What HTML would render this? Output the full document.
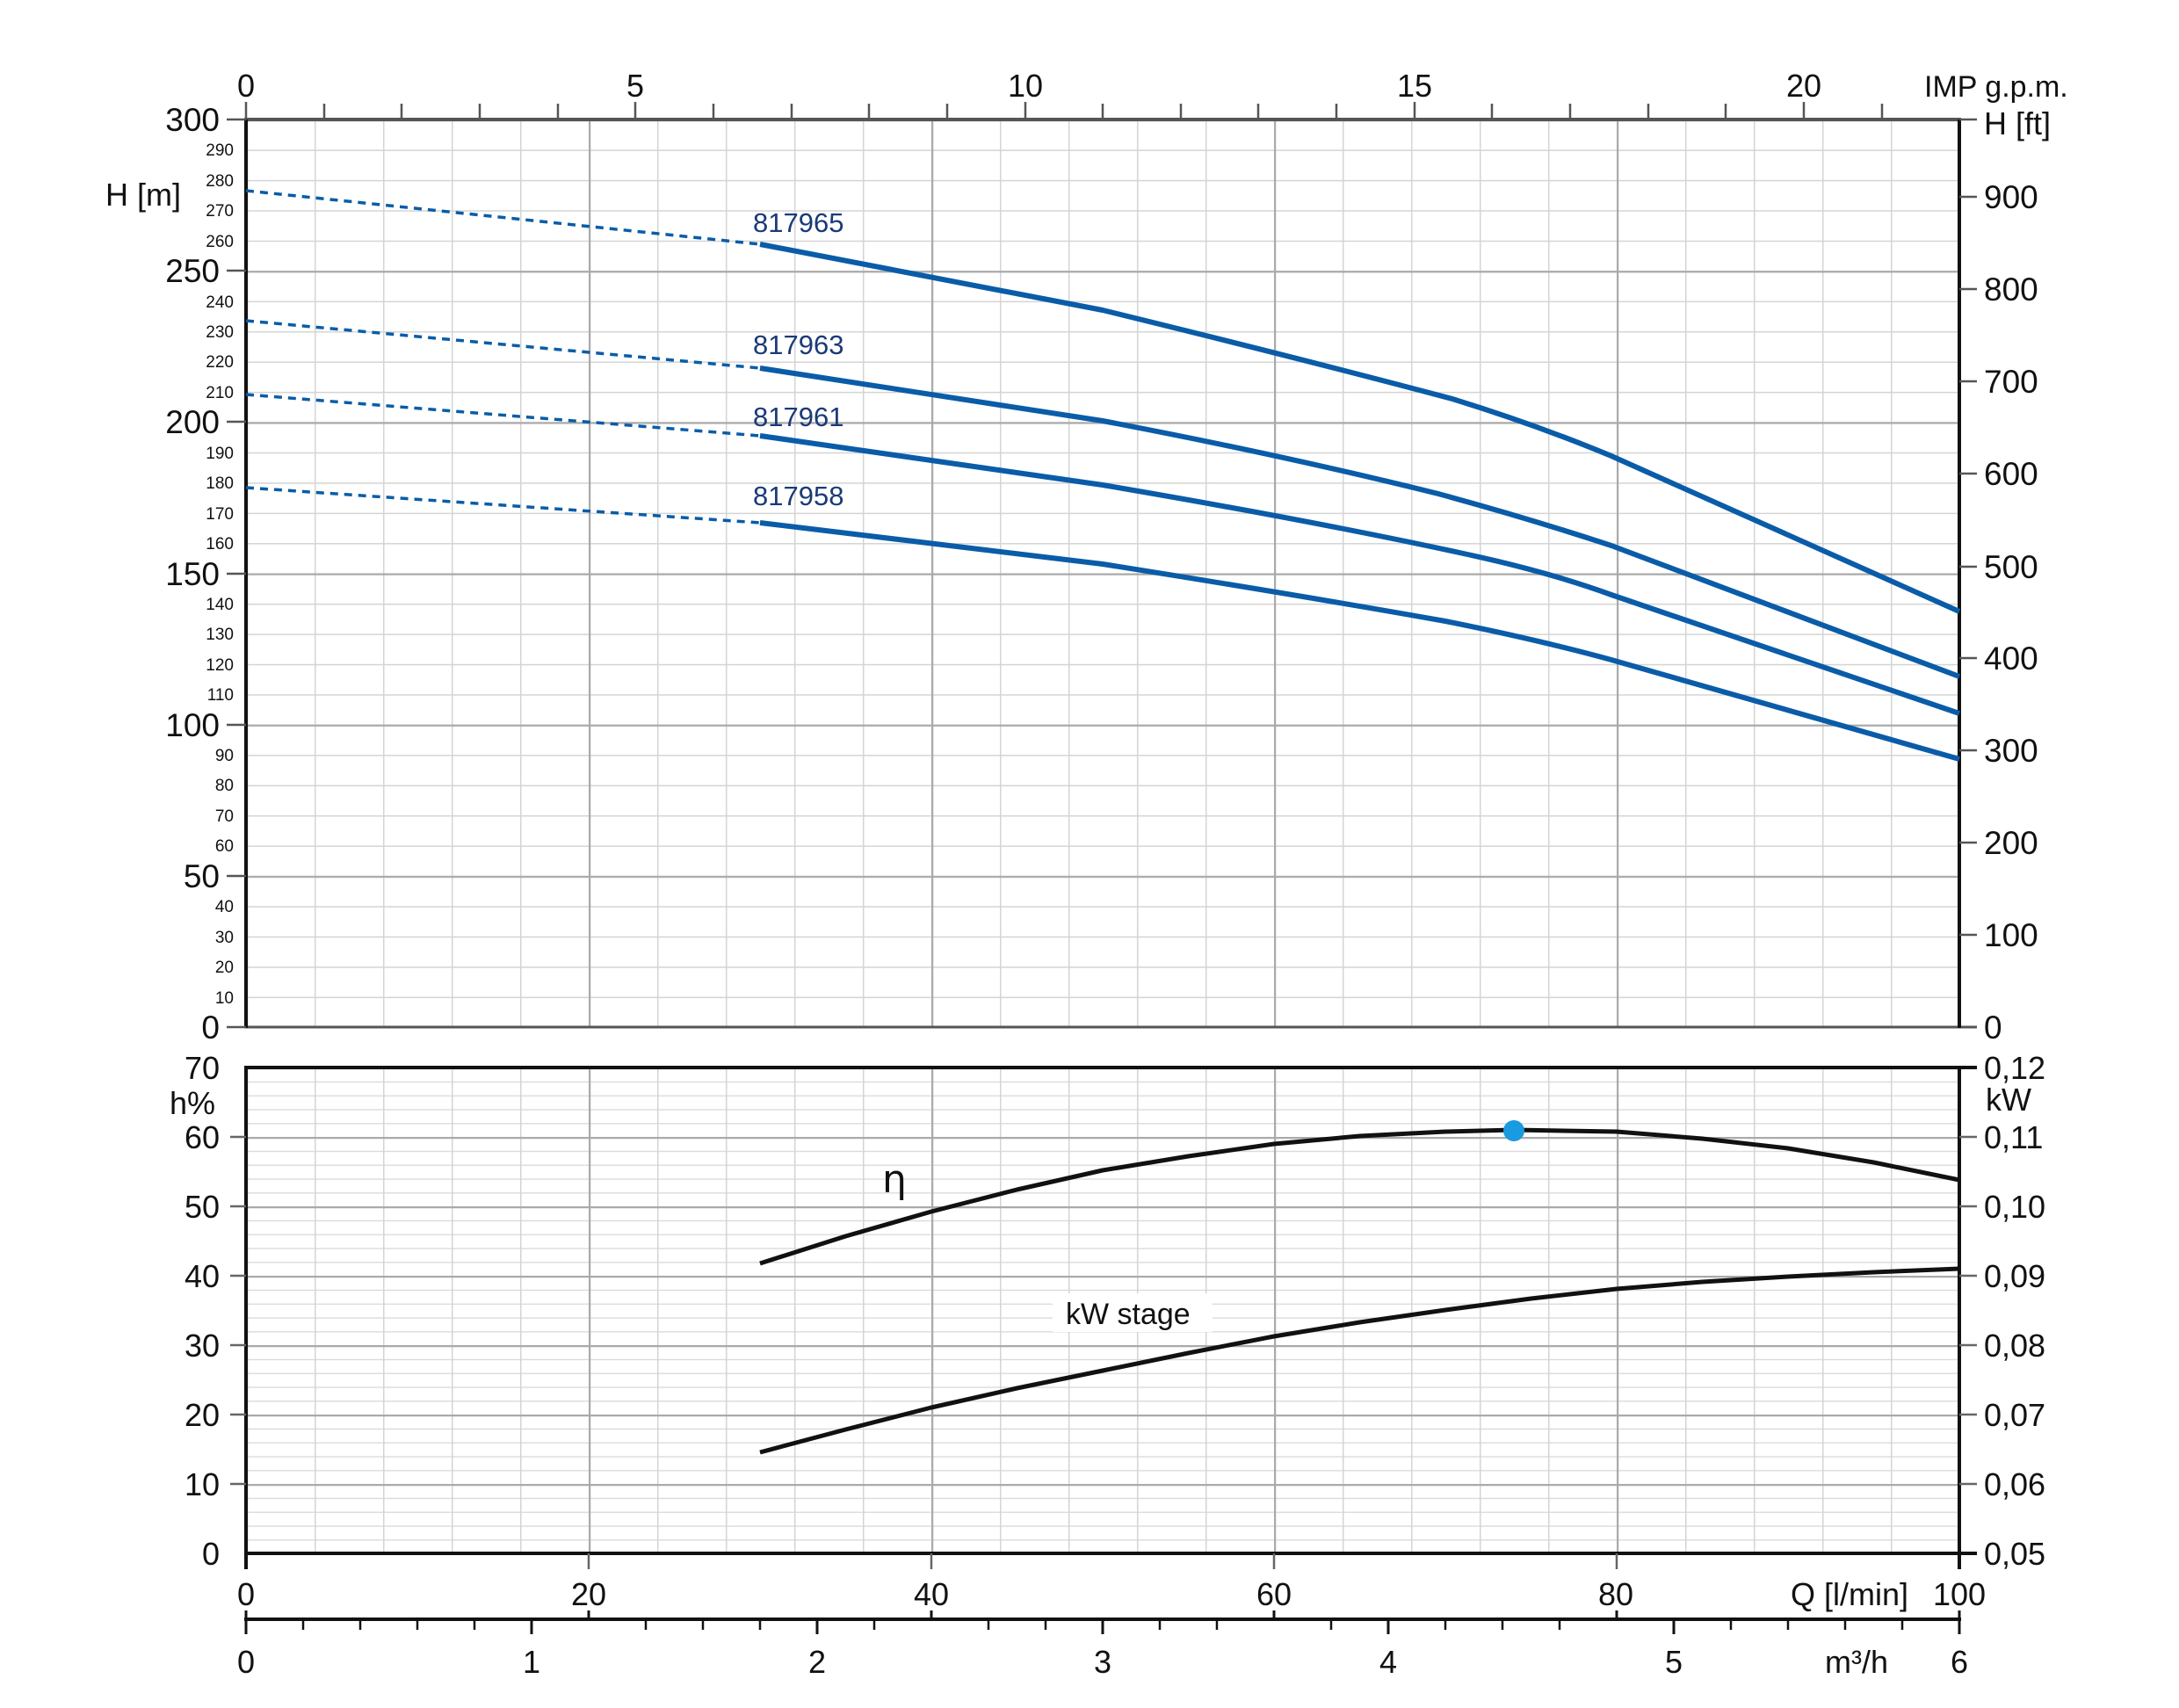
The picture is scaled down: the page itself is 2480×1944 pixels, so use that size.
<!DOCTYPE html>
<html><head><meta charset="utf-8"><style>
html,body{margin:0;padding:0;background:#fff;}
svg{display:block;}
text{font-family:"Liberation Sans Narrow","Liberation Sans",sans-serif;fill:#111;}
</style></head><body>
<svg width="2480" height="1944" viewBox="0 0 2480 1944" xmlns="http://www.w3.org/2000/svg">
<defs>
<pattern id="vmin" x="280" y="0" width="78" height="10" patternUnits="userSpaceOnUse"><line x1="0.5" y1="0" x2="0.5" y2="10" stroke="#d4d4d4" stroke-width="2"/></pattern>
<pattern id="vmaj" x="280" y="0" width="390" height="10" patternUnits="userSpaceOnUse"><line x1="1" y1="0" x2="1" y2="10" stroke="#aaa" stroke-width="2.5"/></pattern>
<pattern id="hminT" x="0" y="136" width="10" height="34.433" patternUnits="userSpaceOnUse"><line x1="0" y1="0.5" x2="10" y2="0.5" stroke="#d4d4d4" stroke-width="2"/></pattern>
<pattern id="hmajT" x="0" y="136" width="10" height="172.167" patternUnits="userSpaceOnUse"><line x1="0" y1="1" x2="10" y2="1" stroke="#aaa" stroke-width="2.5"/></pattern>
<pattern id="hminB" x="0" y="1215" width="10" height="15.8" patternUnits="userSpaceOnUse"><line x1="0" y1="0.5" x2="10" y2="0.5" stroke="#d8d8d8" stroke-width="1.6"/></pattern>
<pattern id="hmajB" x="0" y="1215" width="10" height="79" patternUnits="userSpaceOnUse"><line x1="0" y1="1" x2="10" y2="1" stroke="#aaa" stroke-width="2.5"/></pattern>
</defs>

<rect x="280" y="136" width="1950" height="1033" fill="url(#hminT)"/>
<rect x="280" y="136" width="1950" height="1033" fill="url(#vmin)"/>
<rect x="280" y="136" width="1950" height="1033" fill="url(#hmajT)"/>
<rect x="280" y="136" width="1950" height="1033" fill="url(#vmaj)"/>
<rect x="280" y="1215" width="1950" height="553" fill="url(#hminB)"/>
<rect x="280" y="1215" width="1950" height="553" fill="url(#vmin)"/>
<rect x="280" y="1215" width="1950" height="553" fill="url(#hmajB)"/>
<rect x="280" y="1215" width="1950" height="553" fill="url(#vmaj)"/>

<line x1="278" y1="136" x2="2232" y2="136" stroke="#555" stroke-width="4"/>
<line x1="278" y1="1169" x2="2250" y2="1169" stroke="#555" stroke-width="3"/>
<line x1="280" y1="136" x2="280" y2="1170" stroke="#111" stroke-width="4"/>
<line x1="2230" y1="136" x2="2230" y2="1170" stroke="#111" stroke-width="4"/>
<g stroke="#555" stroke-width="2.5">
<line x1="258" y1="136" x2="280" y2="136"/><line x1="258" y1="308" x2="280" y2="308"/><line x1="258" y1="480" x2="280" y2="480"/><line x1="258" y1="653" x2="280" y2="653"/><line x1="258" y1="825" x2="280" y2="825"/><line x1="258" y1="997" x2="280" y2="997"/><line x1="258" y1="1169" x2="280" y2="1169"/>
</g>
<g stroke="#555" stroke-width="2.5">
<line x1="2230" y1="136" x2="2250" y2="136"/>
<line x1="2230" y1="224" x2="2250" y2="224"/><line x1="2230" y1="329" x2="2250" y2="329"/><line x1="2230" y1="434" x2="2250" y2="434"/><line x1="2230" y1="539" x2="2250" y2="539"/><line x1="2230" y1="645" x2="2250" y2="645"/><line x1="2230" y1="749" x2="2250" y2="749"/><line x1="2230" y1="854" x2="2250" y2="854"/><line x1="2230" y1="959" x2="2250" y2="959"/><line x1="2230" y1="1064" x2="2250" y2="1064"/>
</g>
<g stroke="#555" stroke-width="2.5">
<line x1="280" y1="116" x2="280" y2="136"/><line x1="369" y1="118" x2="369" y2="136"/><line x1="457" y1="118" x2="457" y2="136"/><line x1="546" y1="118" x2="546" y2="136"/><line x1="635" y1="118" x2="635" y2="136"/><line x1="723" y1="116" x2="723" y2="136"/><line x1="812" y1="118" x2="812" y2="136"/><line x1="901" y1="118" x2="901" y2="136"/><line x1="989" y1="118" x2="989" y2="136"/><line x1="1078" y1="118" x2="1078" y2="136"/><line x1="1167" y1="116" x2="1167" y2="136"/><line x1="1255" y1="118" x2="1255" y2="136"/><line x1="1344" y1="118" x2="1344" y2="136"/><line x1="1432" y1="118" x2="1432" y2="136"/><line x1="1521" y1="118" x2="1521" y2="136"/><line x1="1610" y1="116" x2="1610" y2="136"/><line x1="1698" y1="118" x2="1698" y2="136"/><line x1="1787" y1="118" x2="1787" y2="136"/><line x1="1876" y1="118" x2="1876" y2="136"/><line x1="1964" y1="118" x2="1964" y2="136"/><line x1="2053" y1="116" x2="2053" y2="136"/><line x1="2142" y1="118" x2="2142" y2="136"/>
</g>
<g font-size="36" text-anchor="middle">
<text x="280" y="110">0</text><text x="723" y="110">5</text><text x="1167" y="110">10</text><text x="1610" y="110">15</text><text x="2053" y="110">20</text>
</g>
<text x="2190" y="110" font-size="34">IMP g.p.m.</text>
<text x="2258" y="153" font-size="36">H [ft]</text>

<g font-size="37" text-anchor="end">
<text x="250" y="149">300</text><text x="250" y="321">250</text><text x="250" y="493">200</text><text x="250" y="666">150</text><text x="250" y="838">100</text><text x="250" y="1010">50</text><text x="250" y="1182">0</text>
</g>
<g font-size="19" text-anchor="end">
<text x="266" y="177">290</text><text x="266" y="212">280</text><text x="266" y="246">270</text><text x="266" y="281">260</text><text x="266" y="350">240</text><text x="266" y="384">230</text><text x="266" y="418">220</text><text x="266" y="453">210</text><text x="266" y="522">190</text><text x="266" y="556">180</text><text x="266" y="591">170</text><text x="266" y="625">160</text><text x="266" y="694">140</text><text x="266" y="728">130</text><text x="266" y="763">120</text><text x="266" y="797">110</text><text x="266" y="866">90</text><text x="266" y="900">80</text><text x="266" y="935">70</text><text x="266" y="969">60</text><text x="266" y="1038">40</text><text x="266" y="1073">30</text><text x="266" y="1107">20</text><text x="266" y="1142">10</text>
</g>
<text x="120" y="234" font-size="36">H [m]</text>
<g font-size="37">
<text x="2258" y="237">900</text><text x="2258" y="342">800</text><text x="2258" y="447">700</text><text x="2258" y="552">600</text><text x="2258" y="658">500</text><text x="2258" y="762">400</text><text x="2258" y="867">300</text><text x="2258" y="972">200</text><text x="2258" y="1077">100</text><text x="2258" y="1182">0</text>
</g>

<g stroke="#0a5ca8" fill="none" stroke-linecap="butt">
<g stroke-width="3.5" stroke-dasharray="9,7">
<line x1="280" y1="217" x2="865" y2="278"/>
<line x1="280" y1="365" x2="865" y2="419"/>
<line x1="280" y1="449" x2="865" y2="496"/>
<line x1="280" y1="555" x2="865" y2="595"/>
</g>
<g stroke-width="6" stroke-linejoin="round">
<path d="M865,278 L1255,353 Q1480,408 1653,454 Q1750,484 1834,519 L2230,696"/>
<path d="M865,419 L1255,479 Q1460,518 1637,562 Q1740,590 1834,621 L2230,770"/>
<path d="M865,496 L1255,552 Q1490,592 1661,629 Q1760,650 1834,677 L2230,812"/>
<path d="M865,595 L1255,642 Q1470,676 1645,707 Q1750,728 1834,751 L2230,864"/>
</g>
</g>
<g font-size="31">
<text x="857" y="264" style="fill:#1a3a78">817965</text>
<text x="857" y="403" style="fill:#1a3a78">817963</text>
<text x="857" y="485" style="fill:#1a3a78">817961</text>
<text x="857" y="575" style="fill:#1a3a78">817958</text>
</g>

<line x1="278" y1="1215" x2="2250" y2="1215" stroke="#111" stroke-width="4"/>
<line x1="278" y1="1768" x2="2250" y2="1768" stroke="#111" stroke-width="4"/>
<line x1="280" y1="1215" x2="280" y2="1786" stroke="#111" stroke-width="4"/>
<line x1="2230" y1="1215" x2="2230" y2="1786" stroke="#111" stroke-width="4"/>
<g stroke="#666" stroke-width="2.5">
<line x1="262" y1="1294" x2="280" y2="1294"/><line x1="262" y1="1373" x2="280" y2="1373"/><line x1="262" y1="1452" x2="280" y2="1452"/><line x1="262" y1="1531" x2="280" y2="1531"/><line x1="262" y1="1610" x2="280" y2="1610"/><line x1="262" y1="1689" x2="280" y2="1689"/>
<line x1="2230" y1="1294" x2="2250" y2="1294"/><line x1="2230" y1="1373" x2="2250" y2="1373"/><line x1="2230" y1="1452" x2="2250" y2="1452"/><line x1="2230" y1="1531" x2="2250" y2="1531"/><line x1="2230" y1="1610" x2="2250" y2="1610"/><line x1="2230" y1="1689" x2="2250" y2="1689"/>
<line x1="670" y1="1768" x2="670" y2="1786"/><line x1="1060" y1="1768" x2="1060" y2="1786"/><line x1="1450" y1="1768" x2="1450" y2="1786"/><line x1="1840" y1="1768" x2="1840" y2="1786"/>
</g>
<g font-size="36" text-anchor="end" style="font-family:'Liberation Sans',sans-serif">
<text x="250" y="1228">70</text><text x="250" y="1307">60</text><text x="250" y="1386">50</text><text x="250" y="1465">40</text><text x="250" y="1544">30</text><text x="250" y="1623">20</text><text x="250" y="1702">10</text><text x="250" y="1781">0</text>
</g>
<text x="193" y="1268" font-size="36" style="font-family:'Liberation Sans',sans-serif">h%</text>
<g font-size="36" style="font-family:'Liberation Sans',sans-serif">
<text x="2258" y="1228">0,12</text><text x="2258" y="1307">0,11</text><text x="2258" y="1386">0,10</text><text x="2258" y="1465">0,09</text><text x="2258" y="1544">0,08</text><text x="2258" y="1623">0,07</text><text x="2258" y="1702">0,06</text><text x="2258" y="1781">0,05</text>
<text x="2260" y="1264">kW</text>
</g>

<polyline points="865,1438 962.5,1407 1060,1379 1157.5,1354 1255,1332 1352.5,1316 1450,1302 1547.5,1293 1645,1288 1723,1286 1840,1288 1937.5,1296 2035,1307 2132.5,1323 2230,1343" fill="none" stroke="#111" stroke-width="5" stroke-linejoin="round"/>
<polyline points="865,1653 962.5,1627 1060,1602 1157.5,1580 1255,1560 1352.5,1540 1450,1521 1547.5,1505 1645,1491 1742.5,1478 1840,1467 1937.5,1459 2035,1453 2132.5,1448 2230,1444" fill="none" stroke="#111" stroke-width="5" stroke-linejoin="round"/>
<circle cx="1723" cy="1287" r="12" fill="#1a9ae0"/>
<text x="1004" y="1357" font-size="44" style="font-family:'DejaVu Sans',sans-serif">η</text>
<rect x="1198" y="1472" width="182" height="44" fill="#fff"/>
<text x="1213" y="1507" font-size="34" style="font-family:'Liberation Sans',sans-serif">kW stage</text>

<g font-size="36" text-anchor="middle" style="font-family:'Liberation Sans',sans-serif">
<text x="280" y="1827">0</text><text x="670" y="1827">20</text><text x="1060" y="1827">40</text><text x="1450" y="1827">60</text><text x="1839" y="1827">80</text><text x="2230" y="1827">100</text>
<text x="2105" y="1827">Q [l/min]</text>
</g>
<line x1="278" y1="1843" x2="2232" y2="1843" stroke="#111" stroke-width="4"/>
<g stroke="#111" stroke-width="3">
<line x1="670" y1="1833" x2="670" y2="1843"/><line x1="1060" y1="1833" x2="1060" y2="1843"/><line x1="1450" y1="1833" x2="1450" y2="1843"/><line x1="1840" y1="1833" x2="1840" y2="1843"/>
<line x1="280" y1="1833" x2="280" y2="1860"/><line x1="605" y1="1843" x2="605" y2="1860"/><line x1="930" y1="1843" x2="930" y2="1860"/><line x1="1255" y1="1843" x2="1255" y2="1860"/><line x1="1580" y1="1843" x2="1580" y2="1860"/><line x1="1905" y1="1843" x2="1905" y2="1860"/><line x1="2230" y1="1833" x2="2230" y2="1860"/>
</g>
<g stroke="#111" stroke-width="2.5">
<line x1="345" y1="1843" x2="345" y2="1855"/><line x1="410" y1="1843" x2="410" y2="1855"/><line x1="475" y1="1843" x2="475" y2="1855"/><line x1="540" y1="1843" x2="540" y2="1855"/>
<line x1="735" y1="1843" x2="735" y2="1855"/><line x1="800" y1="1843" x2="800" y2="1855"/><line x1="865" y1="1843" x2="865" y2="1855"/>
<line x1="995" y1="1843" x2="995" y2="1855"/><line x1="1125" y1="1843" x2="1125" y2="1855"/><line x1="1190" y1="1843" x2="1190" y2="1855"/>
<line x1="1320" y1="1843" x2="1320" y2="1855"/><line x1="1385" y1="1843" x2="1385" y2="1855"/><line x1="1515" y1="1843" x2="1515" y2="1855"/>
<line x1="1645" y1="1843" x2="1645" y2="1855"/><line x1="1710" y1="1843" x2="1710" y2="1855"/><line x1="1775" y1="1843" x2="1775" y2="1855"/>
<line x1="1970" y1="1843" x2="1970" y2="1855"/><line x1="2035" y1="1843" x2="2035" y2="1855"/><line x1="2100" y1="1843" x2="2100" y2="1855"/><line x1="2165" y1="1843" x2="2165" y2="1855"/>
</g>
<g font-size="36" text-anchor="middle" style="font-family:'Liberation Sans',sans-serif">
<text x="280" y="1904">0</text><text x="605" y="1904">1</text><text x="930" y="1904">2</text><text x="1255" y="1904">3</text><text x="1580" y="1904">4</text><text x="1905" y="1904">5</text><text x="2230" y="1904">6</text>
<text x="2113" y="1904">m³/h</text>
</g>
</svg>
</body></html>
